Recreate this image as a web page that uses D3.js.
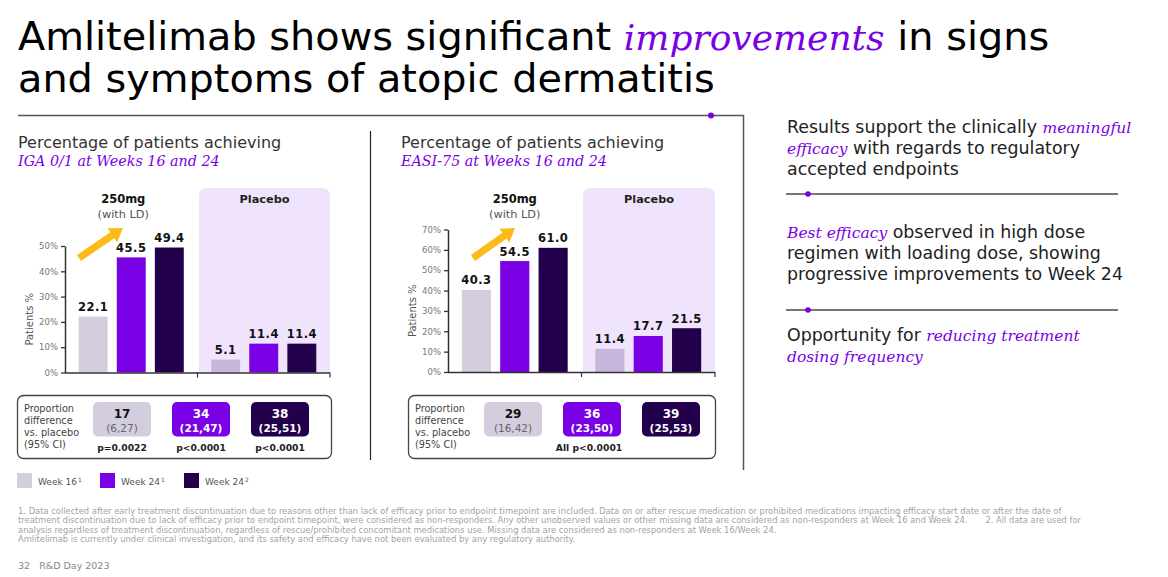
<!DOCTYPE html>
<html><head><meta charset="utf-8">
<script src="https://cdn.jsdelivr.net/npm/d3@7"></script>
<style>body{margin:0;background:#fff}svg{display:block}</style>
</head><body><svg id="c" width="1168" height="577"></svg>
<script>
// ---------- data ----------
const groups = ["250mg", "Placebo"];
const series = ["Week 16", "Week 24", "Week 24"];
const seriesSup = ["1", "1", "2"];
const igaActive = [22.1, 45.5, 49.4];
const igaPlacebo = [5.1, 11.4, 11.4];
const easiActive = [40.3, 54.5, 61.0];
const easiPlacebo = [11.4, 17.7, 21.5];
const igaTicks = [0, 10, 20, 30, 40, 50];
const easiTicks = [0, 10, 20, 30, 40, 50, 60, 70];
const igaDiff = ["17", "34", "38"];
const igaCI = ["(6,27)", "(21,47)", "(25,51)"];
const igaP = ["p=0.0022", "p<0.0001", "p<0.0001"];
const easiDiff = ["29", "36", "39"];
const easiCI = ["(16,42)", "(23,50)", "(25,53)"];
const easiP = ["All p<0.0001"];
const diffLabel = ["Proportion", "difference", "vs. placebo", "(95% CI)"];

// ---------- style ----------
const SANS = "'DejaVu Sans', Verdana, sans-serif";
const SERIF = "'DejaVu Serif', Georgia, serif";
const PURPLE = "#7A00E6";
const DARK = "#22004B";
const LIGHT = "#D3CDDE";
const LIGHT_P = "#C6B6DC";
const BG_P = "#F0E4FD";
const seriesColors = [LIGHT, PURPLE, DARK];
const pillText = ["#111", "#fff", "#fff"];
const pillSub = ["#666", "#fff", "#fff"];

const svg = d3.select("#c");

// ---------- title ----------
const t1 = svg.append("text").attr("x", 18).attr("y", 50).attr("font-family", SANS).attr("font-size", 39.8).attr("fill", "#000");
t1.append("tspan").text("Amlitelimab shows significant ");
t1.append("tspan").attr("font-family", SERIF).attr("font-style", "italic").attr("fill", PURPLE).attr("font-size", 36).text("improvements");
t1.append("tspan").text(" in signs");
svg.append("text").attr("x", 18).attr("y", 92).attr("font-family", SANS).attr("font-size", 39.8).attr("fill", "#000")
  .text("and symptoms of atopic dermatitis");

// frame
svg.append("path").attr("d", "M18,115.5H743.5V470").attr("fill", "none").attr("stroke", "#555").attr("stroke-width", 1.5);
svg.append("circle").attr("cx", 711).attr("cy", 115.5).attr("r", 3).attr("fill", PURPLE);
svg.append("line").attr("x1", 370.5).attr("x2", 370.5).attr("y1", 131).attr("y2", 460).attr("stroke", "#222").attr("stroke-width", 1.2);

// ---------- chart builder ----------
function drawChart(cfg) {
  const g = svg.append("g");
  // subtitle
  g.append("text").attr("x", cfg.tx).attr("y", 148).attr("font-family", SANS).attr("font-size", 16).attr("fill", "#333").text("Percentage of patients achieving");
  g.append("text").attr("x", cfg.tx).attr("y", 166).attr("font-family", SERIF).attr("font-style", "italic").attr("font-size", 14.3).attr("fill", PURPLE).text(cfg.sub);

  const gx = d3.scaleBand().domain(groups).range([cfg.x0, cfg.x1]);
  const sx = d3.scaleBand().domain(d3.range(series.length)).range([0, gx.bandwidth()]).paddingInner(0.24).paddingOuter(0.36);
  const y = d3.scaleLinear().domain([0, d3.max(cfg.ticks)]).range([cfg.y0, cfg.yTop]);

  // placebo background
  const bx0 = gx("Placebo") + 1.5, bx1 = cfg.x1, by0 = 188, by1 = cfg.y0, r = 8;
  g.append("path").attr("d", `M${bx0},${by1}V${by0 + r}Q${bx0},${by0} ${bx0 + r},${by0}H${bx1 - r}Q${bx1},${by0} ${bx1},${by0 + r}V${by1}Z`).attr("fill", BG_P);

  // headers
  const c0 = gx("250mg") + gx.bandwidth() / 2 + cfg.labelDx;
  g.append("text").attr("x", c0).attr("y", 203).attr("text-anchor", "middle").attr("font-family", SANS).attr("font-weight", "bold").attr("font-size", 11.5).attr("fill", "#111").text("250mg");
  g.append("text").attr("x", c0).attr("y", 217.5).attr("text-anchor", "middle").attr("font-family", SANS).attr("font-size", 11.3).attr("fill", "#555").text("(with LD)");
  g.append("text").attr("x", (bx0 + bx1) / 2).attr("y", 203).attr("text-anchor", "middle").attr("font-family", SANS).attr("font-weight", "bold").attr("font-size", 11.3).attr("fill", "#222").text("Placebo");

  // arrow
  const [ax0, ay0, ax1, ay1] = cfg.arrow;
  const ang = Math.atan2(ay1 - ay0, ax1 - ax0), L = Math.hypot(ax1 - ax0, ay1 - ay0);
  const hl = 13, hw = 8.5, sw = 3.6;
  const pts = [[0, -sw], [L - hl, -sw], [L - hl, -hw], [L, 0], [L - hl, hw], [L - hl, sw], [0, sw]]
    .map(([u, v]) => [ax0 + u * Math.cos(ang) - v * Math.sin(ang), ay0 + u * Math.sin(ang) + v * Math.cos(ang)]);
  g.append("polygon").attr("points", pts.map(p => p.join(",")).join(" ")).attr("fill", "#FDBB1B");

  // bars
  const data = [];
  groups.forEach((grp, gi) => (gi === 0 ? cfg.active : cfg.placebo).forEach((v, si) => data.push({ grp, gi, si, v })));
  g.selectAll("rect.bar").data(data).join("rect").attr("class", "bar")
    .attr("x", d => gx(d.grp) + sx(d.si)).attr("width", sx.bandwidth())
    .attr("y", d => y(d.v)).attr("height", d => y(0) - y(d.v))
    .attr("fill", d => d.si === 0 && d.gi === 1 ? LIGHT_P : seriesColors[d.si]);
  g.selectAll("text.val").data(data).join("text").attr("class", "val")
    .attr("x", d => gx(d.grp) + sx(d.si) + sx.bandwidth() / 2).attr("y", d => y(d.v) - 5.5)
    .attr("text-anchor", "middle").attr("font-family", SANS).attr("font-weight", "bold").attr("font-size", 11.5).attr("fill", "#111")
    .attr("letter-spacing", 0.5).text(d => d.v.toFixed(1));

  // y axis
  const ya = g.append("g").attr("transform", `translate(${cfg.x0},0)`)
    .call(d3.axisLeft(y).tickValues(cfg.ticks).tickSize(4).tickSizeOuter(0).tickFormat(d => d + "%"));
  ya.select(".domain").attr("stroke", "#333").attr("stroke-width", 1.5);
  ya.selectAll(".tick line").attr("stroke", "#333").attr("stroke-width", 1.3);
  ya.selectAll(".tick text").attr("font-family", SANS).attr("font-size", 8.5).attr("fill", "#777").attr("x", -7);
  g.append("text").attr("transform", `translate(${cfg.x0 - 32},${(cfg.y0 + cfg.yTop) / 2 + 10}) rotate(-90)`)
    .attr("text-anchor", "middle").attr("font-family", SANS).attr("font-size", 10).attr("fill", "#555").text("Patients %");

  // x axis
  g.append("line").attr("x1", cfg.x0).attr("x2", cfg.x1).attr("y1", cfg.y0 + 0.5).attr("y2", cfg.y0 + 0.5).attr("stroke", "#333").attr("stroke-width", 1.5);
  g.selectAll("line.xt").data(groups).join("line").attr("class", "xt")
    .attr("x1", d => gx(d) + gx.bandwidth()).attr("x2", d => gx(d) + gx.bandwidth())
    .attr("y1", cfg.y0).attr("y2", cfg.y0 + 5).attr("stroke", "#333").attr("stroke-width", 1.2);

  // difference box
  const B = cfg.box;
  g.append("rect").attr("x", B.x + 0.5).attr("y", 395.5).attr("width", B.w).attr("height", 63).attr("rx", 6).attr("fill", "none").attr("stroke", "#444").attr("stroke-width", 1.3);
  g.selectAll("text.lab").data(diffLabel).join("text").attr("class", "lab")
    .attr("x", B.x + 7).attr("y", (d, i) => 412 + i * 12).attr("font-family", SANS).attr("font-size", 9.7).attr("fill", "#444").text(d => d);
  const pillOff = [105, 184, 263];
  const pg = g.selectAll("g.pill").data(cfg.diff).join("g").attr("class", "pill").attr("transform", (d, i) => `translate(${B.x + pillOff[i]},0)`);
  pg.append("rect").attr("x", -29).attr("y", 402).attr("width", 58).attr("height", 34.5).attr("rx", 5).attr("fill", (d, i) => seriesColors[i]);
  pg.append("text").attr("y", 418).attr("text-anchor", "middle").attr("font-family", SANS).attr("font-weight", "bold").attr("font-size", 12).attr("fill", (d, i) => pillText[i]).text(d => d);
  pg.append("text").attr("y", 431.5).attr("text-anchor", "middle").attr("font-family", SANS).attr("font-weight", (d, i) => i ? "bold" : "normal").attr("font-size", 10.5).attr("fill", (d, i) => pillSub[i]).text((d, i) => cfg.ci[i]);
  if (cfg.p.length === 3) {
    g.selectAll("text.pv").data(cfg.p).join("text").attr("class", "pv")
      .attr("x", (d, i) => B.x + pillOff[i]).attr("y", 450.5).attr("text-anchor", "middle").attr("font-family", SANS).attr("font-weight", "bold").attr("font-size", 9.2).attr("fill", "#222").text(d => d);
  } else {
    g.append("text").attr("x", B.x + pillOff[1] - 3).attr("y", 450.5).attr("text-anchor", "middle").attr("font-family", SANS).attr("font-weight", "bold").attr("font-size", 9.2).attr("fill", "#222").text(cfg.p[0]);
  }
}

drawChart({ tx: 18, sub: "IGA 0/1 at Weeks 16 and 24", x0: 65, x1: 330, y0: 372.5, yTop: 246, ticks: igaTicks,
  active: igaActive, placebo: igaPlacebo, labelDx: -8, arrow: [79, 258, 123, 228],
  box: { x: 17, w: 314 }, diff: igaDiff, ci: igaCI, p: igaP });
drawChart({ tx: 401, sub: "EASI-75 at Weeks 16 and 24", x0: 448, x1: 715, y0: 372, yTop: 229.5, ticks: easiTicks,
  active: easiActive, placebo: easiPlacebo, labelDx: 0, arrow: [473, 258, 515, 228],
  box: { x: 408, w: 307 }, diff: easiDiff, ci: easiCI, p: easiP });

// ---------- legend ----------
const legX = [17, 100, 184];
const lg = svg.selectAll("g.leg").data(series).join("g").attr("class", "leg").attr("transform", (d, i) => `translate(${legX[i]},473)`);
lg.append("rect").attr("width", 15).attr("height", 15).attr("fill", (d, i) => seriesColors[i]);
const lt = lg.append("text").attr("x", 21).attr("y", 11.5).attr("font-family", SANS).attr("font-size", 9).attr("fill", "#555");
lt.append("tspan").text(d => d);
lt.append("tspan").attr("font-size", 6).attr("dy", -3).attr("dx", 1).text((d, i) => seriesSup[i]);

// ---------- right panel ----------
const paras = [
  { y: 133, lines: [[["Results support the clinically ", 0], ["meaningful", 1]], [["efficacy", 1], [" with regards to regulatory", 0]], [["accepted endpoints", 0]]] },
  { y: 238, lines: [[["Best efficacy", 1], [" observed in high dose", 0]], [["regimen with loading dose, showing", 0]], [["progressive improvements to Week 24", 0]]] },
  { y: 341, lines: [[["Opportunity for ", 0], ["reducing treatment", 1]], [["dosing frequency", 1]]] }
];
paras.forEach(p => p.lines.forEach((ln, li) => {
  const t = svg.append("text").attr("x", 787).attr("y", p.y + li * 21).attr("font-size", 17.4).attr("fill", "#222");
  ln.forEach(([s, it]) => t.append("tspan").attr("font-family", it ? SERIF : SANS).attr("font-style", it ? "italic" : "normal")
    .attr("fill", it ? PURPLE : "#222").attr("font-size", it ? 15.5 : 17.4).text(s));
}));
[194, 310].forEach(yy => {
  svg.append("line").attr("x1", 786).attr("x2", 1118).attr("y1", yy).attr("y2", yy).attr("stroke", "#777").attr("stroke-width", 2);
  svg.append("circle").attr("cx", 808).attr("cy", yy).attr("r", 2.8).attr("fill", PURPLE);
});

// ---------- footnotes ----------
const notes = [
  "1. Data collected after early treatment discontinuation due to reasons other than lack of efficacy prior to endpoint timepoint are included. Data on or after rescue medication or prohibited medications impacting efficacy start date or after the date of",
  "treatment discontinuation due to lack of efficacy prior to endpoint timepoint, were considered as non-responders. Any other unobserved values or other missing data are considered as non-responders at Week 16 and Week 24.",
  "analysis regardless of treatment discontinuation, regardless of rescue/prohibited concomitant medications use. Missing data are considered as non-responders at Week 16/Week 24.",
  "Amlitelimab is currently under clinical investigation, and its safety and efficacy have not been evaluated by any regulatory authority."
];
const FN = "'DejaVu Sans Condensed', 'DejaVu Sans', sans-serif";
notes.forEach((n, i) => {
  const t = svg.append("text").attr("x", 18).attr("y", 514 + i * 9.4).attr("font-family", FN).attr("font-size", 9.3).attr("fill", "#A3A3A3").text(n);
  if (i === 1) t.append("tspan").attr("dx", 18).text("2. All data are used for");
});
svg.append("text").attr("x", 18).attr("y", 569).attr("font-family", SANS).attr("font-size", 9.5).attr("fill", "#888").attr("xml:space", "preserve").text("32   R&D Day 2023");
</script></body></html>
